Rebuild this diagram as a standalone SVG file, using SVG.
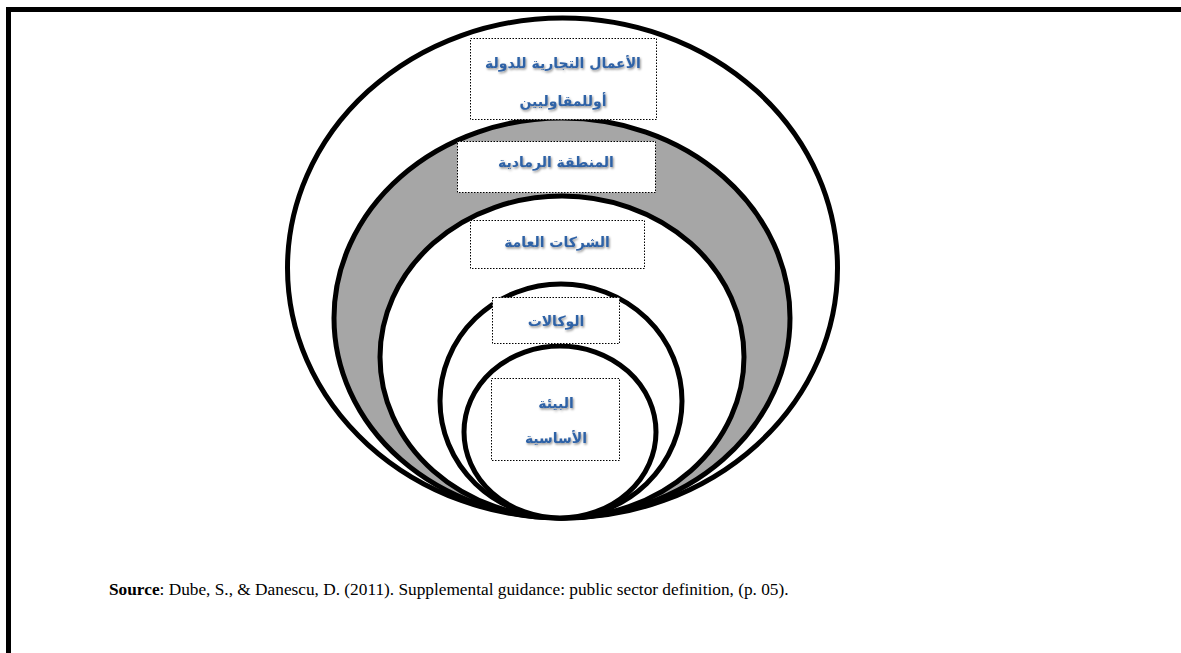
<svg xmlns="http://www.w3.org/2000/svg" width="1181" height="653" viewBox="0 0 1181 653">
  <style>
    .ring { stroke: #000; stroke-width: 5; }
    .box { fill: #fff; stroke: #000; stroke-width: 1; stroke-dasharray: 1.5 1.5; }
    .ar { font-family: "DejaVu Sans", "Noto Sans", sans-serif; font-weight: bold; font-size: 14px; fill: #2f62a6; text-anchor: middle; direction: rtl; filter: url(#shadow); }
    .src { font-family: "Liberation Serif", "Times New Roman", serif; font-size: 17.3px; fill: #000; }
  </style>
  <defs>
    <filter id="shadow" x="-10%" y="-30%" width="120%" height="160%">
      <feDropShadow dx="1" dy="1.5" stdDeviation="0.8" flood-color="#000" flood-opacity="0.45"/>
    </filter>
  </defs>

  <rect width="1181" height="653" fill="#fff"/>
  <!-- outer frame, open on the right and bottom -->
  <rect x="8.5" y="9.5" width="1185" height="660" fill="none" stroke="#000" stroke-width="5"/>

  <!-- nested sectors, all touching at the bottom -->
  <g id="sector-outer">
    <ellipse class="ring" cx="562.5" cy="268" rx="275" ry="250" fill="#fff"/>
  </g>
  <g id="sector-grey">
    <ellipse class="ring" cx="562" cy="318" rx="228" ry="200" fill="#a6a6a6"/>
  </g>
  <g id="sector-public-companies">
    <ellipse class="ring" cx="562" cy="357" rx="182" ry="161" fill="#fff"/>
  </g>
  <g id="sector-agencies">
    <ellipse class="ring" cx="561" cy="401" rx="121" ry="117" fill="#fff"/>
  </g>
  <g id="sector-core">
    <ellipse class="ring" cx="560" cy="432" rx="96" ry="86" fill="#fff"/>
  </g>

  <!-- labels -->
  <g id="label-state-business">
    <rect class="box" x="470.5" y="38.5" width="186" height="81"/>
    <text class="ar" x="563" y="68">الأعمال التجارية للدولة</text>
    <text class="ar" x="563" y="106">أوللمقاوليين</text>
  </g>
  <g id="label-grey-zone">
    <rect class="box" x="457.5" y="141.5" width="198" height="51"/>
    <text class="ar" x="556" y="167">المنطقة الرمادية</text>
  </g>
  <g id="label-public-companies">
    <rect class="box" x="470.5" y="220.5" width="174" height="48"/>
    <text class="ar" x="557" y="247">الشركات العامة</text>
  </g>
  <g id="label-agencies">
    <rect class="box" x="492.5" y="297.5" width="127" height="46"/>
    <text class="ar" x="556" y="326">الوكالات</text>
  </g>
  <g id="label-core">
    <rect class="box" x="491.5" y="378.5" width="128" height="82"/>
    <text class="ar" x="556" y="408">البيئة</text>
    <text class="ar" x="556" y="443">الأساسية</text>
  </g>

  <g id="connectors"/>

  <text class="src" x="109" y="595"><tspan font-weight="bold">Source</tspan>: Dube, S., &amp; Danescu, D. (2011). Supplemental guidance: public sector definition, (p. 05).</text>
</svg>
